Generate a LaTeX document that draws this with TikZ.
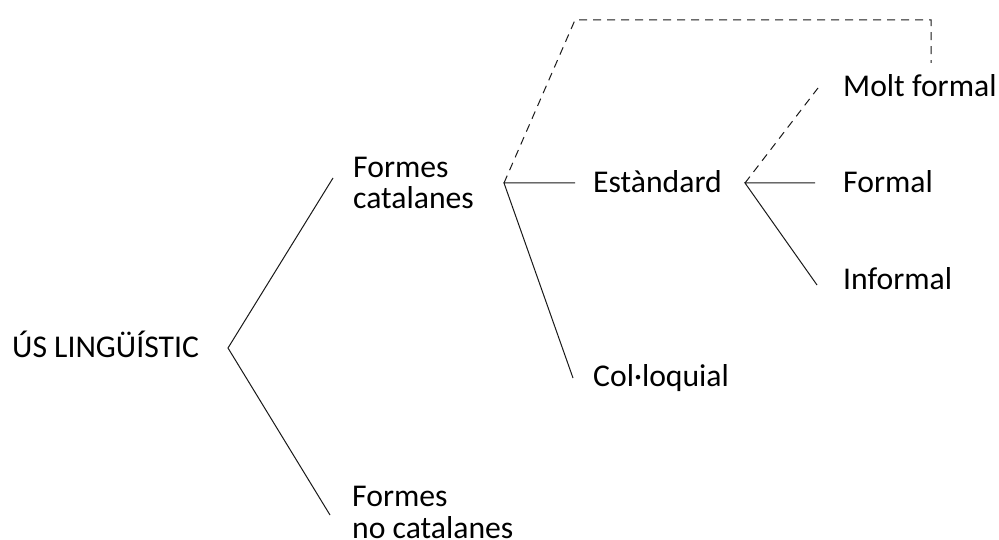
\documentclass[tikz,border=0pt]{standalone}
\usepackage{fontspec}
\setmainfont{Carlito}
\begin{document}
\begin{tikzpicture}[x=1bp,y=-1bp,
  lbl/.style={font=\fontsize{31.8}{32}\selectfont, inner sep=0, anchor=base west, align=left, text=black},
  ln/.style={line width=1bp, draw=black!90},
  dsh/.style={ln, dash pattern=on 8bp off 6bp}]
\useasboundingbox[fill=white] (0,0) rectangle (999,540);
% texts (multi-line nodes anchored at the baseline of their last line)
\node[lbl] (us)  at (12,358)  {ÚS LINGÜÍSTIC};
\node[lbl] (fc)  at (353,209) {Formes\\catalanes};
\node[lbl] (fnc) at (352,538) {Formes\\no catalanes};
\node[lbl] (std) at (593,193) {Estàndard};
\node[lbl] (col) at (593,387) {Col·loquial};
\node[lbl] (mf)  at (843,97)  {Molt formal};
\node[lbl] (fo)  at (843,193) {Formal};
\node[lbl] (inf) at (843,290) {Informal};
% branch points and line ends
\coordinate (v0) at (228,348);
\coordinate (a1) at (333,178);
\coordinate (a2) at (330,515);
\coordinate (v1) at (504,183);
\coordinate (e1) at (575,183);
\coordinate (c1) at (573,378);
\coordinate (t1) at (575,20);
\coordinate (t2) at (931,20);
\coordinate (t3) at (931,63);
\coordinate (v2) at (745,183);
\coordinate (e2) at (815,183);
\coordinate (d2) at (818,88);
\coordinate (i2) at (817,285);
% connectors
\draw[ln] (a1) -- (v0) -- (a2);
\draw[ln] (e1) -- (v1) -- (c1);
\draw[dsh] (v1) -- (t1) -- (t2) -- (t3);
\draw[ln] (e2) -- (v2) -- (i2);
\draw[dsh] (v2) -- (d2);
\end{tikzpicture}
\end{document}
